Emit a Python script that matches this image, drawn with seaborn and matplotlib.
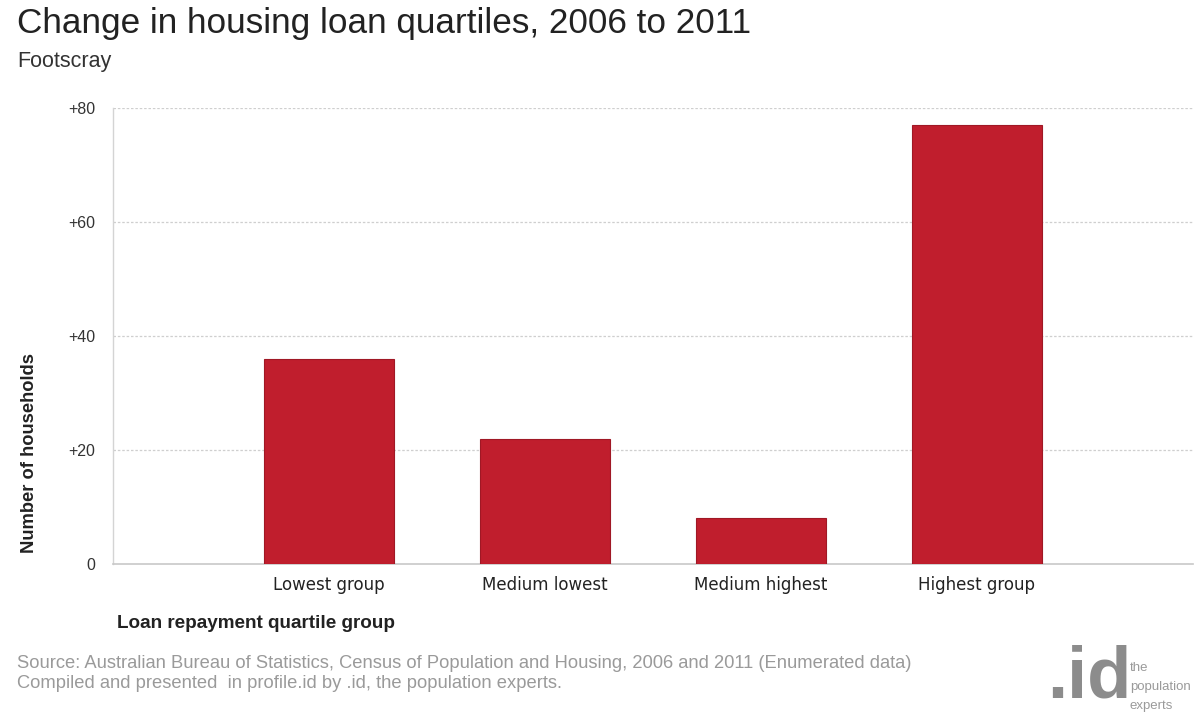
import matplotlib
matplotlib.use("Agg")
import matplotlib.pyplot as plt
import seaborn as sns
import pandas as pd

# Data
categories = ["Lowest group", "Medium lowest", "Medium highest", "Highest group"]
change = [36, 22, 8, 77]
yticks = [0, 20, 40, 60, 80]
ytick_labels = ["0", "+20", "+40", "+60", "+80"]
logo_lines = ["the", "population", "experts"]

df = pd.DataFrame({"group": categories, "change": change})

sns.set_theme(style="white")
plt.rcParams["font.family"] = ["Liberation Sans", "DejaVu Sans"]

fig = plt.figure(figsize=(12, 7.14), dpi=100)
ax = fig.add_axes([113 / 1200, 1 - 564 / 714, 1080 / 1200, 456 / 714])

sns.barplot(data=df, x="group", y="change", color="#C01E2D", saturation=1,
            width=0.6, edgecolor="#A01825", linewidth=0.8, ax=ax, zorder=3)

ax.set_xlim(-1, 4)
ax.set_ylim(0, 80)
ax.set_yticks(yticks)
ax.set_yticklabels(ytick_labels)

# gridlines: dashed, light grey
for v in yticks[1:]:
    ax.axhline(v, color="#cfcfcf", linestyle=(0, (2, 1.5)), linewidth=0.9, zorder=1)

for side in ["top", "right"]:
    ax.spines[side].set_visible(False)
ax.spines["left"].set_color("#d4d4d4")
ax.spines["bottom"].set_color("#c8c8c8")
ax.spines["left"].set_linewidth(1)
ax.spines["bottom"].set_linewidth(1.2)

ax.tick_params(axis="y", length=9, color="#d4d4d4", width=1, pad=4,
               labelsize=11.5, labelcolor="#333333")
ax.tick_params(axis="x", length=0, pad=9, labelsize=12, labelcolor="#222222")
for lab in ax.get_xticklabels():
    lab.set_family("DejaVu Sans")
ax.set_xlabel("")
ax.set_ylabel("")

fig.text(17 / 1200, 1 - 33 / 714, "Change in housing loan quartiles, 2006 to 2011",
         fontsize=25.3, color="#222222", ha="left", va="baseline")
fig.text(17 / 1200, 1 - 67 / 714, "Footscray", fontsize=15.5, color="#333333",
         ha="left", va="baseline")

fig.text(30 / 1200, 1 - 453 / 714, "Number of households", rotation=90,
         fontsize=13.2, fontweight="bold", color="#222222", ha="center", va="center")
fig.text(117 / 1200, 1 - 623 / 714, "Loan repayment quartile group",
         fontsize=13.6, fontweight="bold", color="#222222", ha="left", va="center")

fig.text(17 / 1200, 1 - 663 / 714,
         "Source: Australian Bureau of Statistics, Census of Population and Housing, 2006 and 2011 (Enumerated data)",
         fontsize=13.2, color="#9a9a9a", ha="left", va="center")
fig.text(17 / 1200, 1 - 684 / 714,
         "Compiled and presented  in profile.id by .id, the population experts.",
         fontsize=13.2, color="#9a9a9a", ha="left", va="center")

# .id logo
fig.text(1047 / 1200, 1 / 714, ".id", fontsize=52, fontweight="bold",
         color="#8c8c8c", ha="left", va="bottom")
for i, line in enumerate(logo_lines):
    fig.text(1130 / 1200, 1 - (671 + 19 * i) / 714, line, fontsize=9.5,
             color="#9a9a9a", ha="left", va="baseline")

fig.savefig("out.png", dpi=100)
